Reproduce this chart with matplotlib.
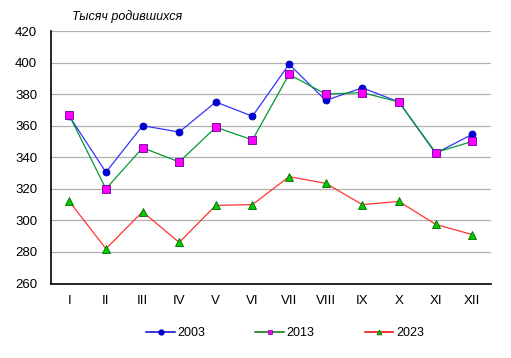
import numpy as np
import matplotlib
matplotlib.use('Agg')
import matplotlib.pyplot as plt

plt.rcParams['font.family'] = ['Liberation Sans', 'DejaVu Sans']

# Data
months = ['I', 'II', 'III', 'IV', 'V', 'VI', 'VII', 'VIII', 'IX', 'X', 'XI', 'XII']
births_2003 = [366, 330.5, 360, 356, 375, 366, 399, 376, 384, 375, 342.5, 354.5]
births_2013 = [366.5, 320, 346, 337, 359, 351, 392.5, 380, 381, 375, 343, 350]
births_2023 = [312, 282, 305.5, 286, 309.5, 310, 327.7, 323.5, 310, 312, 297.5, 291]
yticks = [260, 280, 300, 320, 340, 360, 380, 400, 420]

fig = plt.figure(figsize=(5.11, 3.58), dpi=100)
ax = fig.add_axes([51/511, 1-283.5/358, (490.5-51)/511, (283.5-31)/358])

x = np.arange(len(months))
ax.plot(x, births_2003, color='#3333ff', lw=0.9, marker='o', ms=5,
        mfc='#0000dd', mec='#0000aa', mew=0.6, zorder=3)
ax.plot(x, births_2013, color='#009933', lw=0.9, marker='s', ms=5.5,
        mfc='#ff00ff', mec='#660099', mew=0.6, zorder=4)
ax.plot(x, births_2023, color='#ff3333', lw=0.9, marker='^', ms=6,
        mfc='#00cc00', mec='#006600', mew=0.6, zorder=3)

# legend handles (darker lines, small markers like the original)
h1, = ax.plot([], [], color='#0000cc', lw=1.1, marker='o', ms=3.5, mfc='#0000cc', mec='#0000cc')
h2, = ax.plot([], [], color='#007700', lw=1.1, marker='s', ms=3.5, mfc='#ff00ff', mec='#660099', mew=0.5)
h3, = ax.plot([], [], color='#ee0000', lw=1.1, marker='^', ms=3.5, mfc='#00cc00', mec='#006600', mew=0.5)

ax.set_xlim(-0.5, len(months)-0.5)
ax.set_ylim(260, 420)
ax.set_yticks(yticks)
ax.set_xticks(x)
ax.set_xticklabels(months)
ax.tick_params(axis='both', length=0, labelsize=9.5, colors='black')
ax.tick_params(axis='y', pad=10)
ax.tick_params(axis='x', pad=8)
ax.yaxis.grid(True, color='#b0b0b0', lw=0.9)
ax.set_axisbelow(True)
for s in ['top', 'right']:
    ax.spines[s].set_visible(False)
ax.spines['left'].set_linewidth(1.2)
ax.spines['bottom'].set_linewidth(1.2)

fig.text(72/511, 1-17/358, 'Тысяч родившихся', fontsize=9, style='italic',
         va='center', ha='left')

fig.legend([h1, h2, h3], ['2003', '2013', '2023'], loc='center',
           bbox_to_anchor=(285/511, 1-333/358), ncol=3,
           frameon=False, fontsize=9, handlelength=2.3,
           handletextpad=0.2, columnspacing=4.0)

fig.savefig('out.png', dpi=100)
